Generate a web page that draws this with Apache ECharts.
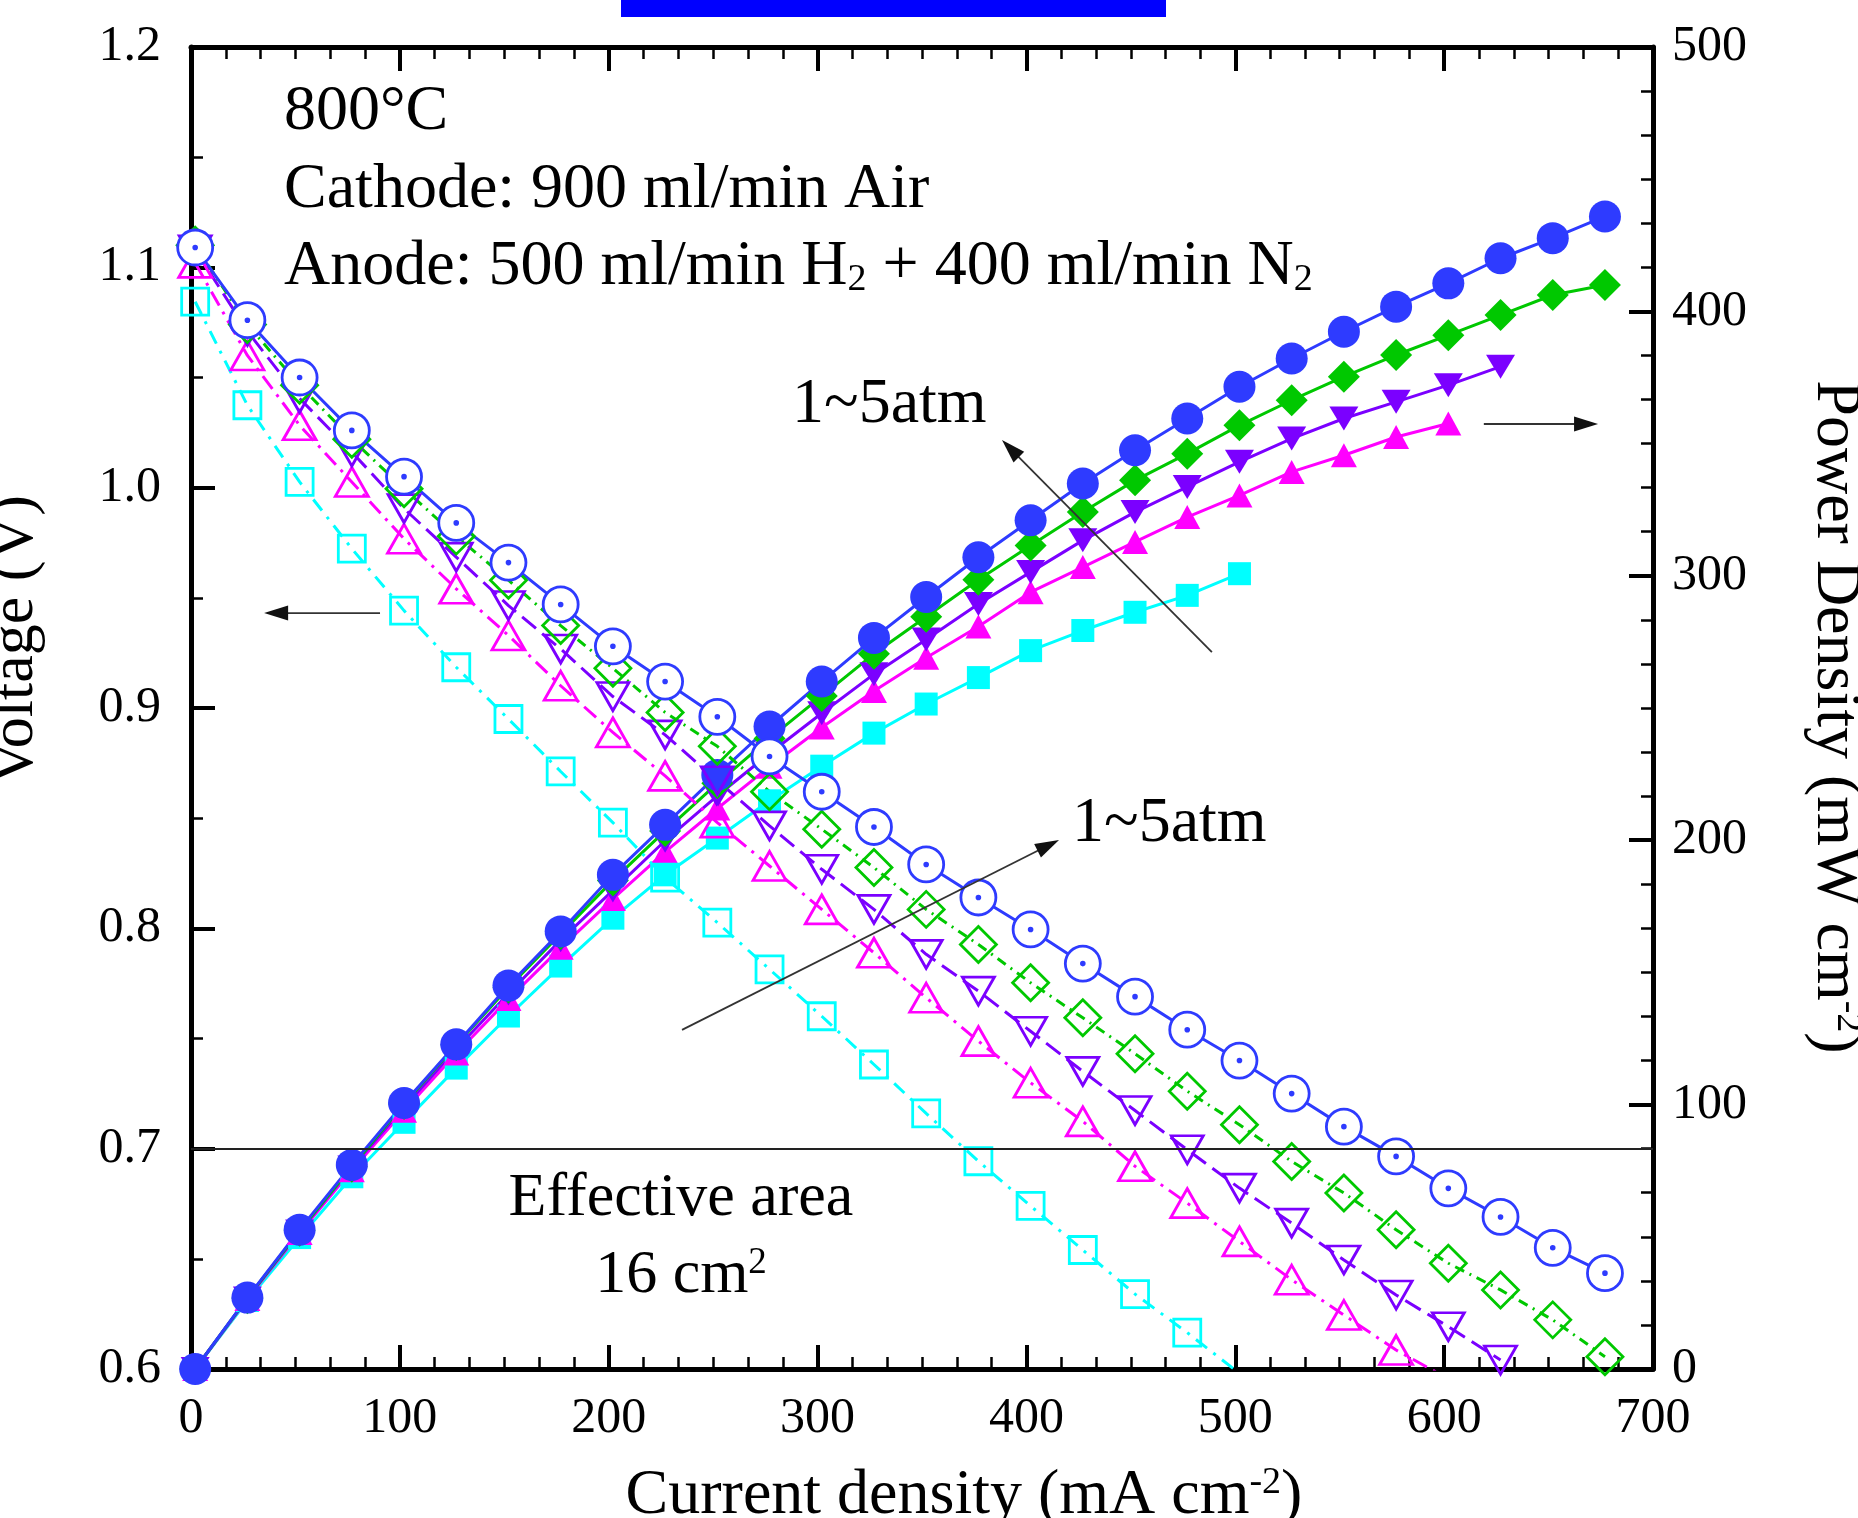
<!DOCTYPE html>
<html>
<head>
<meta charset="utf-8">
<script src="https://cdn.jsdelivr.net/npm/echarts@6/dist/echarts.min.js"></script>
<style>
html,body{margin:0;padding:0;background:#ffffff;}
#chart{width:1858px;height:1518px;}
</style>
</head>
<body>
<div id="chart"></div>
<script>
// ---------------- DATA ----------------
// current density, mA cm-2
const currents = [2, 27, 52, 77, 102, 127, 152, 177, 202, 227, 252, 277, 302, 327, 352,
                  377, 402, 427, 452, 477, 502, 527, 552, 577, 602, 627, 652, 677];

const seriesNames = ['1 atm', '2 atm', '3 atm', '4 atm', '5 atm'];

// Voltage (V), open markers, left axis
const voltage1atm = [1.0844, 1.0374, 1.0026, 0.9723, 0.9442, 0.9185, 0.895, 0.8712, 0.848, 0.823,
                     0.8026, 0.7814, 0.7601, 0.7382, 0.716, 0.6943, 0.674, 0.654, 0.634, 0.6165, 0.598];
const voltage2atm = [1.102, 1.060, 1.0283, 1.0026, 0.9768, 0.9541, 0.9329, 0.9101, 0.8889, 0.8692,
                     0.848, 0.8283, 0.8086, 0.7889, 0.7685, 0.7488, 0.7299, 0.7124, 0.692, 0.6753,
                     0.6579, 0.6405, 0.6245, 0.6086, 0.5955];
const voltage3atm = [1.108, 1.071, 1.0405, 1.0162, 0.9905, 0.9685, 0.9465, 0.9268, 0.9052, 0.8878,
                     0.867, 0.8465, 0.8268, 0.8086, 0.7882, 0.7715, 0.7533, 0.7351, 0.7173, 0.6995,
                     0.6821, 0.6662, 0.6495, 0.6336, 0.6192, 0.6041];
const voltage4atm = [1.110, 1.074, 1.0465, 1.022, 0.9995, 0.978, 0.958, 0.9374, 0.918, 0.898,
                     0.8826, 0.862, 0.845, 0.8276, 0.8086, 0.7927, 0.7753, 0.7594, 0.7431, 0.7261,
                     0.7109, 0.6942, 0.6799, 0.6632, 0.648, 0.6359, 0.6223, 0.6056];
const voltage5atm = [1.109, 1.076, 1.050, 1.026, 1.005, 0.984, 0.966, 0.947, 0.928, 0.912,
                     0.896, 0.878, 0.862, 0.846, 0.829, 0.814, 0.7995, 0.784, 0.769, 0.754,
                     0.740, 0.725, 0.710, 0.6965, 0.682, 0.669, 0.655, 0.6435];

// Power density (mW cm-2), filled markers, right axis
const power1atm = [0, 25.9, 49.7, 72.7, 93.3, 113.8, 133.5, 152.4, 170.5, 186.9,
                   200.8, 214.9, 228.0, 240.5, 251.5, 261.5, 271.7, 279.3, 286.2, 292.6, 300.8];
const power2atm = [0, 26.5, 51.4, 75.2, 97.7, 119.3, 139.9, 159.3, 177.8, 195.6,
                   212.0, 227.8, 242.6, 256.4, 269.0, 280.8, 293.8, 303.3, 312.8, 322.2,
                   330.4, 339.3, 345.6, 352.5, 357.6];
const power3atm = [0, 26.7, 52.0, 76.2, 99.0, 121.0, 142.0, 162.2, 181.0, 199.8,
                   216.8, 232.8, 248.0, 262.8, 275.9, 289.3, 301.4, 313.4, 324.1, 333.6,
                   343.1, 351.9, 359.5, 365.8, 372.1, 379.1];
const power4atm = [0, 26.8, 52.3, 76.5, 100.2, 122.5, 144.3, 164.5, 184.8, 203.5,
                   221.5, 238.5, 254.5, 270.5, 284.5, 298.5, 311.5, 324.1, 336.1, 346.2,
                   356.9, 366.4, 375.3, 383.5, 391.0, 398.6, 406.2, 410.0];
const power5atm = [0, 27.0, 52.7, 77.2, 100.6, 122.8, 145.0, 165.5, 186.9, 205.8,
                   224.7, 243.0, 260.0, 276.5, 292.0, 307.0, 321.0, 334.9, 347.5, 359.5,
                   371.5, 382.2, 392.3, 401.8, 410.6, 420.1, 427.7, 435.9];

// reference voltage line
const referenceVoltage = 0.7;

// annotation arrows, in (current density, voltage) coordinates
const annotationArrows = [
  {from: [90.5, 0.9431], to: [35, 0.9431]},
  {from: [619, 1.0289], to: [673.7, 1.0289]},
  {from: [488.8, 0.9254], to: [388.3, 1.0216]},
  {from: [235.1, 0.7539], to: [415.6, 0.8401]}
];

// ---------------- STYLE ----------------
const FONT = "'Liberation Serif', 'Times New Roman', serif";
const colors = ['#00FFFF', '#FF00FF', '#7B00FF', '#00C800', '#2E3BFF'];
const dashes = [[14, 8, 3, 8], [16, 7, 3, 7], [18, 8], [10, 6, 2, 6], 'solid'];
const circleDot = 'path://M0 -20A20 20 0 1 1 0 20A20 20 0 1 1 0 -20ZM0 -1.6A1.6 1.6 0 1 1 0 1.6A1.6 1.6 0 1 1 0 -1.6Z';

const voltages = [voltage1atm, voltage2atm, voltage3atm, voltage4atm, voltage5atm];
const powers = [power1atm, power2atm, power3atm, power4atm, power5atm];

const openSymbols = [
  {symbol: 'rect', size: 27, rotate: 0},
  {symbol: 'triangle', size: [33, 29], rotate: 0},
  {symbol: 'triangle', size: [32, 28], rotate: 180},
  {symbol: 'diamond', size: 36, rotate: 0},
  {symbol: circleDot, size: 35, rotate: 0}
];
const filledSymbols = [
  {symbol: 'rect', size: 23, rotate: 0},
  {symbol: 'triangle', size: [26, 24], rotate: 0},
  {symbol: 'triangle', size: [29, 24], rotate: 180},
  {symbol: 'diamond', size: 32, rotate: 0},
  {symbol: 'circle', size: 32, rotate: 0}
];

function pairs(vals) { return vals.map((v, i) => [currents[i], v]); }

const series = [];
// power density series (drawn first)
powers.forEach((p, k) => {
  series.push({
    name: seriesNames[k] + ' power',
    type: 'line', xAxisIndex: 0, yAxisIndex: 1,
    data: pairs(p),
    symbol: filledSymbols[k].symbol,
    symbolSize: filledSymbols[k].size,
    symbolRotate: filledSymbols[k].rotate,
    showAllSymbol: true,
    lineStyle: {color: colors[k], width: 3, type: 'solid'},
    itemStyle: {color: colors[k], borderWidth: 0},
    emphasis: {disabled: true},
    animation: false
  });
});
// voltage series
voltages.forEach((v, k) => {
  const s = {
    name: seriesNames[k] + ' voltage',
    type: 'line', xAxisIndex: 0, yAxisIndex: 0,
    data: pairs(v),
    symbol: openSymbols[k].symbol,
    symbolSize: openSymbols[k].size,
    symbolRotate: openSymbols[k].rotate,
    showAllSymbol: true,
    lineStyle: {color: colors[k], width: 3, type: dashes[k]},
    itemStyle: {color: k === 4 ? '#ffffff' : 'rgba(0,0,0,0)', borderColor: colors[k], borderWidth: 2.8},
    emphasis: {disabled: true},
    animation: false
  };
  if (k === 4) {
    s.markLine = {
      silent: true, symbol: ['none', 'none'], label: {show: false},
      lineStyle: {color: '#222', width: 2, type: 'solid'},
      data: [{yAxis: referenceVoltage}],
      animation: false
    };
  }
  series.push(s);
});

const axisLineStyle = {show: true, onZero: false, lineStyle: {color: '#000', width: 5}};
const tickStyle = {show: true, inside: true, length: 24, lineStyle: {color: '#000', width: 4}};
function minor(n) { return {show: true, splitNumber: n, length: 12, lineStyle: {color: '#000', width: 2.5}}; }
const labelBase = {color: '#000', fontSize: 50, fontFamily: FONT};

const option = {
  backgroundColor: '#ffffff',
  animation: false,
  grid: {left: 191, top: 47, width: 1462, height: 1322, containLabel: false},
  xAxis: [
    {type: 'value', position: 'bottom', min: 0, max: 700, interval: 100,
     axisLine: axisLineStyle, axisTick: tickStyle, minorTick: minor(6),
     splitLine: {show: false}, minorSplitLine: {show: false},
     axisLabel: Object.assign({margin: 25}, labelBase)},
    {type: 'value', position: 'top', min: 0, max: 700, interval: 100,
     axisLine: axisLineStyle, axisTick: tickStyle, minorTick: minor(6),
     splitLine: {show: false}, axisLabel: {show: false}}
  ],
  yAxis: [
    {type: 'value', position: 'left', min: 0.6, max: 1.2, interval: 0.1,
     axisLine: axisLineStyle, axisTick: tickStyle, minorTick: minor(2),
     splitLine: {show: false},
     axisLabel: Object.assign({margin: 30, formatter: v => v.toFixed(1)}, labelBase)},
    {type: 'value', position: 'right', min: 0, max: 500, interval: 100,
     axisLine: axisLineStyle, axisTick: tickStyle, minorTick: minor(6),
     splitLine: {show: false},
     axisLabel: Object.assign({margin: 19}, labelBase)}
  ],
  series: series
};

const chart = echarts.init(document.getElementById('chart'), null, {renderer: 'canvas'});
chart.setOption(option);

// ---------------- ANNOTATIONS ----------------
const MID = 0.3375; // baseline offset below middle, in em
const supRich = (fs) => ({
  sup: {fontSize: Math.round(fs * 0.6), lineHeight: Math.round(fs * 0.6), verticalAlign: 'top', fontFamily: FONT, fill: '#000'},
  sub: {fontSize: Math.round(fs * 0.6), lineHeight: Math.round(fs * 0.47), verticalAlign: 'bottom', fontFamily: FONT, fill: '#000'}
});
function label(id, text, x, baseline, fs, align) {
  return {
    type: 'text', id: id, x: x, y: baseline - MID * fs, z: 100,
    style: {text: text, x: 0, y: 0, fontSize: fs, fontFamily: FONT, fill: '#000',
            lineHeight: fs, align: align || 'left', verticalAlign: 'middle', rich: supRich(fs)}
  };
}

const graphics = [
  {type: 'rect', id: 'topbar', shape: {x: 621, y: 0, width: 545, height: 17}, style: {fill: '#0000FF'}, z: 100},
  label('t800', '800°C', 284, 134, 64),
  label('tcath', 'Cathode: 900 ml/min Air', 284, 212, 64),
  label('tanode', 'Anode: 500 ml/min H{sub|2} + 400 ml/min N{sub|2}', 284, 289, 64),
  label('tatm1', '1~5atm', 792, 427, 64),
  label('tatm2', '1~5atm', 1072, 846, 64),
  label('teff', 'Effective area', 681, 1220, 62, 'center'),
  label('tarea', '16 cm{sup|2}', 681, 1297, 62, 'center'),
  label('txname', 'Current density (mA cm{sup|-2})', 964, 1518, 64, 'center'),
  {type: 'text', id: 'ylname', x: 16, y: 640, rotation: Math.PI / 2, z: 100,
   style: {text: 'Voltage (V)', x: 0, y: 0, fontSize: 62, fontFamily: FONT, fill: '#000',
           lineHeight: 62, align: 'center', verticalAlign: 'middle'}},
  {type: 'text', id: 'yrname', x: 1835, y: 717, rotation: -Math.PI / 2, z: 100,
   style: {text: 'Power Density (mW cm{sup|-2})', x: 0, y: 0, fontSize: 64, fontFamily: FONT, fill: '#000',
           lineHeight: 64, align: 'center', verticalAlign: 'middle', rich: supRich(64)}}
];

annotationArrows.forEach((a, i) => {
  const p0 = chart.convertToPixel({seriesIndex: 5}, a.from);
  const p1 = chart.convertToPixel({seriesIndex: 5}, a.to);
  const dx = p1[0] - p0[0], dy = p1[1] - p0[1];
  const len = Math.hypot(dx, dy);
  const ux = dx / len, uy = dy / len;
  const L = 24, W = 7.5;
  const bx = p1[0] - ux * L, by = p1[1] - uy * L;
  graphics.push({type: 'line', id: 'al' + i, z: 100,
    shape: {x1: p0[0], y1: p0[1], x2: bx + ux * 4, y2: by + uy * 4},
    style: {stroke: '#333', lineWidth: 1.8}});
  graphics.push({type: 'polygon', id: 'ah' + i, z: 100,
    shape: {points: [[p1[0], p1[1]], [bx - uy * W, by + ux * W], [bx + uy * W, by - ux * W]]},
    style: {fill: '#111'}});
});

chart.setOption({graphic: {elements: graphics}});
</script>
</body>
</html>
